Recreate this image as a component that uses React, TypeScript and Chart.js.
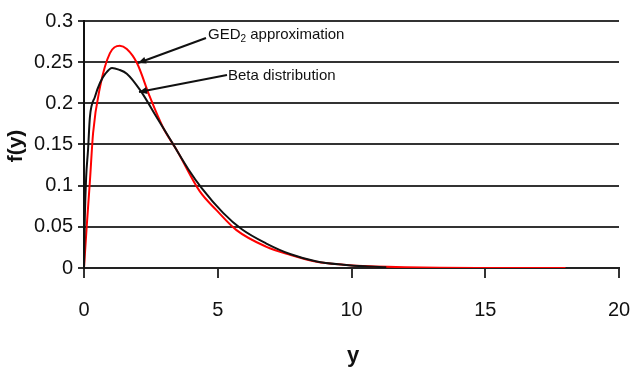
import React, { useEffect, useRef } from "react";
import { Chart, registerables } from "chart.js";

Chart.register(...registerables);

const betaX = [0, 0.03, 0.08, 0.15, 0.22, 0.41, 0.6, 0.8, 1.05, 1.3, 1.6, 2.1, 2.7, 3.3, 3.9, 4.4, 5.2, 5.9, 6.8, 7.7, 8.7, 9.7, 10.5, 11.3];
const betaY = [0, 0.06, 0.11, 0.143, 0.183, 0.208, 0.225, 0.236, 0.243, 0.241, 0.236, 0.216, 0.184, 0.152, 0.12, 0.097, 0.067, 0.047, 0.03, 0.017, 0.008, 0.004, 0.002, 0.001];

const gedX = [0, 0.1, 0.22, 0.34, 0.6, 0.97, 1.34, 1.6, 1.98, 2.46, 2.95, 3.47, 4.33, 4.96, 5.7, 6.8, 7.7, 8.7, 9.7, 10.7, 12, 13.3, 15, 18];
const gedY = [0, 0.05, 0.105, 0.164, 0.22, 0.261, 0.27, 0.266, 0.249, 0.208, 0.171, 0.143, 0.093, 0.07, 0.046, 0.026, 0.016, 0.0075, 0.004, 0.002, 0.001, 0.0003, 0.0001, 0];

const yTickLabels = ["0", "0.05", "0.1", "0.15", "0.2", "0.25", "0.3"];
const xTickLabels = ["0", "5", "10", "15", "20"];

const xTitle = "y";
const yTitle = "f(y)";
const gedLabel = ["GED", "2", " approximation"];
const betaLabel = "Beta distribution";

const SANS = '"Liberation Sans", Arial, sans-serif';

function arrow(ctx: CanvasRenderingContext2D, x1: number, y1: number, x2: number, y2: number) {
  ctx.save();
  ctx.strokeStyle = "#111";
  ctx.fillStyle = "#111";
  ctx.lineWidth = 2;
  ctx.beginPath();
  ctx.moveTo(x1, y1);
  ctx.lineTo(x2, y2);
  ctx.stroke();
  const a = Math.atan2(y2 - y1, x2 - x1);
  const L = 8, W = 3.5;
  ctx.beginPath();
  ctx.moveTo(x2, y2);
  ctx.lineTo(x2 - L * Math.cos(a) + W * Math.sin(a), y2 - L * Math.sin(a) - W * Math.cos(a));
  ctx.lineTo(x2 - L * Math.cos(a) - W * Math.sin(a), y2 - L * Math.sin(a) + W * Math.cos(a));
  ctx.closePath();
  ctx.fill();
  ctx.restore();
}

const decor = {
  id: "decor",
  afterDraw(chart: any) {
    const ctx: CanvasRenderingContext2D = chart.ctx;
    ctx.save();
    ctx.fillStyle = "#111";
    ctx.font = "bold 22px " + SANS;
    ctx.textAlign = "center";
    ctx.textBaseline = "middle";
    ctx.fillText(xTitle, 353, 356);
    ctx.save();
    ctx.translate(16, 146);
    ctx.rotate(-Math.PI / 2);
    ctx.font = "bold 21px " + SANS;
    ctx.fillText(yTitle, 0, 0);
    ctx.restore();

    // annotations
    ctx.textAlign = "left";
    ctx.textBaseline = "alphabetic";
    ctx.font = "15px " + SANS;
    let x = 208;
    const by = 39;
    ctx.fillText(gedLabel[0], x, by);
    x += ctx.measureText(gedLabel[0]).width;
    ctx.font = "10px " + SANS;
    ctx.fillText(gedLabel[1], x, by + 3);
    x += ctx.measureText(gedLabel[1]).width;
    ctx.font = "15px " + SANS;
    ctx.fillText(gedLabel[2], x, by);
    ctx.fillText(betaLabel, 228, 80);
    ctx.restore();

    arrow(ctx, 206, 38, 138, 63);
    arrow(ctx, 227, 75, 139, 92);
  },
};

export default function App() {
  const ref = useRef<HTMLCanvasElement>(null);
  useEffect(() => {
    const chart = new Chart(ref.current!, {
      type: "line",
      data: {
        datasets: [
          {
            label: "Beta distribution",
            data: betaX.map((x, i) => ({ x, y: betaY[i] })),
            borderColor: "#111",
            borderWidth: 2,
            pointRadius: 0,
            cubicInterpolationMode: "monotone",
          },
          {
            label: "GED2 approximation",
            data: gedX.map((x, i) => ({ x, y: gedY[i] })),
            borderColor: "#ff0000",
            borderWidth: 2,
            pointRadius: 0,
            cubicInterpolationMode: "monotone",
          },
        ],
      },
      options: {
        animation: false,
        responsive: false,
        layout: { padding: { top: 21, right: 12, left: 0, bottom: 0 } },
        plugins: { legend: { display: false }, tooltip: { enabled: false } },
        scales: {
          x: {
            type: "linear",
            min: 0,
            max: 20,
            afterBuildTicks: (s: any) => {
              s.ticks = xTickLabels.map((_, i) => ({ value: i * 5 }));
            },
            ticks: {
              callback: (_v: any, i: number) => xTickLabels[i],
              color: "#111",
              font: { family: SANS, size: 20 },
              padding: 20,
              maxRotation: 0,
            },
            grid: { drawOnChartArea: false, drawTicks: true, tickLength: 10, color: "#333", lineWidth: 2 },
            border: { display: true, color: "#222", width: 2 },
            afterFit: (s: any) => {
              s.height = 105;
              s.paddingLeft = 0;
              s.paddingRight = 0;
            },
          },
          y: {
            type: "linear",
            min: 0,
            max: 0.3,
            afterBuildTicks: (s: any) => {
              s.ticks = yTickLabels.map((_, i) => ({ value: i * 0.05 }));
            },
            ticks: {
              callback: (_v: any, i: number) => yTickLabels[i],
              color: "#111",
              font: { family: SANS, size: 20 },
              padding: 5,
            },
            grid: { color: "#333", lineWidth: 2, tickLength: 6 },
            border: { display: true, color: "#111", width: 2 },
            afterFit: (s: any) => {
              s.width = 84;
              s.paddingTop = 0;
              s.paddingBottom = 0;
            },
          },
        },
      },
      plugins: [decor],
    } as any);
    return () => chart.destroy();
  }, []);
  return (
    <div style={{ position: "fixed", left: 0, top: 0, width: 631, height: 373, background: "#fff" }}>
      <canvas ref={ref} width={631} height={373} />
    </div>
  );
}
